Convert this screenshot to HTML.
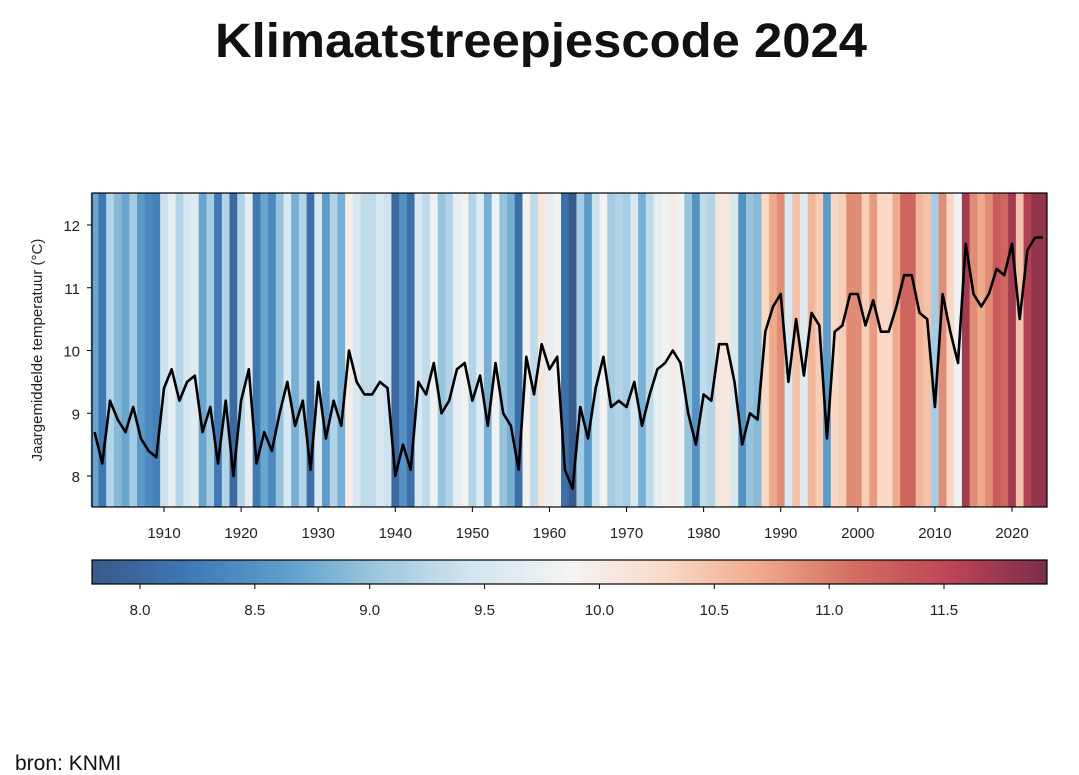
<!DOCTYPE html>
<html><head><meta charset="utf-8">
<style>
body{margin:0;background:#fff;width:1079px;height:775px;overflow:hidden;font-family:"Liberation Sans",sans-serif;}
svg{position:absolute;left:0;top:0}
</style></head>
<body>
<svg id="chart" width="1079" height="775">
<text x="541" y="57" text-anchor="middle" font-size="48" font-weight="bold" fill="#111" textLength="652" lengthAdjust="spacingAndGlyphs">Klimaatstreepjescode 2024</text>
<text transform="translate(42,350) rotate(-90)" text-anchor="middle" font-size="15" fill="#222">Jaargemiddelde temperatuur (°C)</text>
<g id="stripes"></g>
<g id="cbar"></g>
<g id="axes"></g>
<text x="15" y="770" font-size="21" fill="#111">bron: KNMI</text>
</svg>
<script>
const startYear = 1901;
const temps = [8.7,8.2,9.2,8.9,8.7,9.1,8.6,8.4,8.3,9.4,9.7,9.2,9.5,9.6,8.7,9.1,8.2,9.2,8.0,9.2,9.7,8.2,8.7,8.4,9.0,9.5,8.8,9.2,8.1,9.5,8.6,9.2,8.8,10.0,9.5,9.3,9.3,9.5,9.4,8.0,8.5,8.1,9.5,9.3,9.8,9.0,9.2,9.7,9.8,9.2,9.6,8.8,9.8,9.0,8.8,8.1,9.9,9.3,10.1,9.7,9.9,8.1,7.8,9.1,8.6,9.4,9.9,9.1,9.2,9.1,9.5,8.8,9.3,9.7,9.8,10.0,9.8,9.0,8.5,9.3,9.2,10.1,10.1,9.5,8.5,9.0,8.9,10.3,10.7,10.9,9.5,10.5,9.6,10.6,10.4,8.6,10.3,10.4,10.9,10.9,10.4,10.8,10.3,10.3,10.7,11.2,11.2,10.6,10.5,9.1,10.9,10.3,9.8,11.7,10.9,10.7,10.9,11.3,11.2,11.7,10.5,11.6,11.8,11.8];
const xTicks = [1910,1920,1930,1940,1950,1960,1970,1980,1990,2000,2010,2020];
const yTicks = [8,9,10,11,12];
const cbarTicks = [8.0,8.5,9.0,9.5,10.0,10.5,11.0,11.5];
const vmin = 7.79, vmax = 11.95;
const cmapStops = ["#38598a","#3f78b4","#5d9dcb","#9dc8df","#d3e6f0","#f4f4f3","#fadac8","#efa98b","#d26d60","#bd4456","#7a2e4a"];

const NS="http://www.w3.org/2000/svg";
const PL=92, PR=1047, PT=193, PB=507;
function xs(y){return 164+(y-1910)*(1012-164)/110;}
function ys(v){return 225+(12-v)*(476-225)/4;}
function cx(v){return 140+(v-8)*(944-140)/3.5;}
function hex(c){return [1,3,5].map(i=>parseInt(c.substr(i,2),16));}
function cmap(v){let t=(v-vmin)/(vmax-vmin);t=Math.max(0,Math.min(1,t));const n=cmapStops.length-1;const i=Math.min(n-1,Math.floor(t*n));const f=t*n-i;const a=hex(cmapStops[i]),b=hex(cmapStops[i+1]);return "rgb("+a.map((q,k)=>Math.round(q+(b[k]-q)*f)).join(",")+")";}
function el(tag,attrs,parent){const e=document.createElementNS(NS,tag);for(const k in attrs)e.setAttribute(k,attrs[k]);parent.appendChild(e);return e;}
const sg=document.getElementById('stripes'), ag=document.getElementById('axes'), cg=document.getElementById('cbar');
const w=(1012-164)/110;
temps.forEach((v,i)=>{const yr=startYear+i;
 const r=el('rect',{x:xs(yr)-w/2,y:PT,width:w+0.6,height:PB-PT,fill:cmap(v)},sg);
 
 
});
const pts=temps.map((v,i)=>xs(startYear+i).toFixed(1)+","+ys(v).toFixed(1)).join(" ");
const line=el('polyline',{points:pts,fill:"none",stroke:"#000","stroke-width":2.6,"stroke-linejoin":"round"},sg);


const frame=el('rect',{x:PL,y:PT,width:PR-PL,height:PB-PT,fill:"none",stroke:"#000","stroke-width":1.2},ag);


xTicks.forEach(t=>{const x=xs(t);
 el('line',{x1:x,x2:x,y1:PB,y2:PB+5,stroke:"#000"},ag);
 const tx=el('text',{x:x,y:PB+31,"text-anchor":"middle","font-size":15,fill:"#222"},ag);tx.textContent=t;
 
 
});
yTicks.forEach(t=>{const y=ys(t);
 el('line',{x1:PL-5,x2:PL,y1:y,y2:y,stroke:"#000"},ag);
 const tx=el('text',{x:PL-12,y:y+6,"text-anchor":"end","font-size":15,fill:"#222"},ag);tx.textContent=t;
 
 
});
const CT=560,CB=584,N=300;
for(let i=0;i<N;i++){const x0=PL+(PR-PL)*i/N;const v=vmin+(vmax-vmin)*(i+0.5)/N;
 el('rect',{x:x0,y:CT,width:(PR-PL)/N+0.5,height:CB-CT,fill:cmap(v)},cg);}
const cf=el('rect',{x:PL,y:CT,width:PR-PL,height:CB-CT,fill:"none",stroke:"#000","stroke-width":1.2},cg);


cbarTicks.forEach(t=>{const x=cx(t);
 el('line',{x1:x,x2:x,y1:CB,y2:CB+5,stroke:"#000"},cg);
 const tx=el('text',{x:x,y:CB+31,"text-anchor":"middle","font-size":15,fill:"#222"},cg);tx.textContent=t.toFixed(1);
 
 
});
</script>
</body></html>
